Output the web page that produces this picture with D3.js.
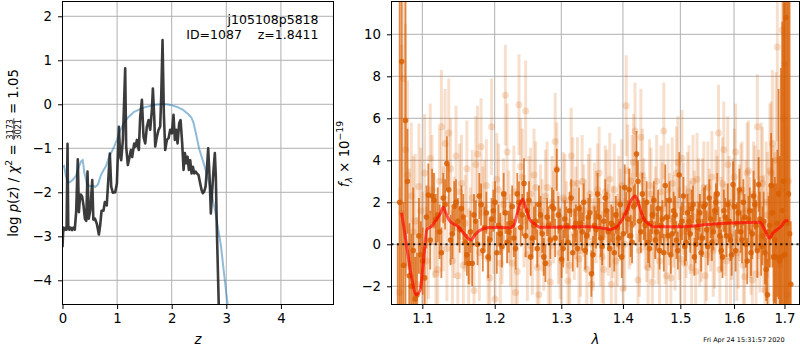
<!DOCTYPE html>
<html><head><meta charset="utf-8">
<script src="https://cdn.jsdelivr.net/npm/d3@7"></script>
<style>
body{margin:0;background:#fff}
svg{display:block;font-family:"DejaVu Sans",sans-serif}
text{white-space:pre}
</style>
</head><body>
<svg id="c" width="800" height="350"></svg>
<script>
// ---------- LEFT PANEL DATA: log p(z) ----------
const zTicks = [0, 1, 2, 3, 4];
const pTicks = [-4, -3, -2, -1, 0, 1, 2];
const pzZ = [0.000,0.015,0.035,0.060,0.075,0.092,0.105,0.125,0.150,0.175,0.200,0.225,0.250,0.280,0.300,0.315,0.335,0.360,0.385,0.410,0.435,0.458,0.480,0.510,0.545,0.565,0.595,0.630,0.666,0.690,0.715,0.750,0.776,0.810,0.837,0.867,0.892,0.922,0.965,0.996,1.032,1.057,1.075,1.106,1.148,1.166,1.197,1.228,1.252,1.276,1.313,1.338,1.362,1.398,1.423,1.454,1.484,1.515,1.545,1.576,1.606,1.637,1.655,1.680,1.698,1.728,1.759,1.789,1.808,1.832,1.856,1.881,1.911,1.942,1.972,2.003,2.033,2.058,2.082,2.107,2.137,2.162,2.192,2.217,2.241,2.265,2.290,2.314,2.339,2.363,2.388,2.412,2.437,2.461,2.492,2.522,2.547,2.571,2.595,2.620,2.644,2.668,2.693,2.717,2.742,2.766,2.790,2.808,2.827,2.864,2.880];
const pzV = [-3.25,-2.80,-2.86,-2.80,-2.85,-0.90,-2.75,-2.85,-2.80,-2.86,-2.80,-2.85,-2.45,-1.25,-2.45,-2.20,-2.05,-2.10,-2.30,-2.60,-2.65,-1.53,-2.60,-2.40,-1.72,-2.62,-2.60,-2.72,-2.96,-2.75,-2.42,-2.42,-2.22,-2.30,-1.75,-1.12,-1.87,-2.01,-2.00,-1.80,-0.51,-1.19,-1.27,-0.81,0.82,-0.96,-1.38,-1.20,-1.04,-1.20,-0.89,-0.96,-0.81,-1.04,-0.28,0.10,-0.74,-0.89,-0.51,-0.36,-0.58,-0.13,0.36,-0.28,-0.96,-0.74,-0.58,-0.51,0.17,1.46,-0.21,-1.04,-0.81,-0.77,-0.58,-0.66,-0.24,-0.81,-0.58,-0.89,-0.43,-0.36,-0.89,-1.49,-1.11,-1.34,-1.19,-1.49,-1.27,-1.57,-1.42,-1.57,-1.53,-1.57,-1.61,-1.80,-1.95,-2.02,-1.98,-1.87,-1.49,-1.00,-1.64,-2.48,-1.95,-1.49,-1.11,-1.64,-2.86,-4.67,-6.00];
const priorZ = [0.00,0.03,0.06,0.10,0.15,0.20,0.25,0.30,0.34,0.37,0.40,0.45,0.50,0.55,0.60,0.65,0.70,0.75,0.80,0.85,0.90,0.95,1.00,1.05,1.10,1.15,1.20,1.30,1.40,1.50,1.60,1.70,1.80,1.90,2.00,2.10,2.20,2.30,2.36,2.40,2.45,2.50,2.60,2.70,2.80,2.90,3.00,3.05];
const priorV = [-1.42,-1.40,-1.62,-1.78,-1.76,-1.70,-1.62,-1.42,-1.30,-1.27,-1.55,-1.82,-1.86,-1.85,-1.88,-1.82,-1.62,-1.50,-1.40,-1.20,-1.08,-0.95,-0.80,-0.62,-0.48,-0.38,-0.30,-0.18,-0.12,-0.07,-0.04,-0.01,0.00,0.00,-0.02,-0.06,-0.12,-0.22,-0.30,-0.42,-0.70,-1.00,-1.40,-1.85,-2.45,-3.20,-4.30,-4.80];

// ---------- RIGHT PANEL DATA: spectrum ----------
const lamTicks = [1.1, 1.2, 1.3, 1.4, 1.5, 1.6, 1.7];
const fTicks = [-2, 0, 2, 4, 6, 8, 10];
// binned (dark) points, beam 1
const lamB = [1.068,1.073,1.078,1.083,1.088,1.093,1.098,1.103,1.108,1.113,1.118,1.123,1.128,1.133,1.138,1.143,1.148,1.153,1.158,1.163,1.168,1.173,1.178,1.183,1.188,1.193,1.198,1.203,1.208,1.213,1.218,1.223,1.228,1.233,1.238,1.243,1.248,1.253,1.258,1.263,1.268,1.273,1.278,1.283,1.288,1.293,1.298,1.303,1.308,1.313,1.318,1.323,1.328,1.333,1.338,1.343,1.348,1.353,1.358,1.363,1.368,1.373,1.378,1.383,1.388,1.393,1.398,1.403,1.408,1.413,1.418,1.423,1.428,1.433,1.438,1.443,1.448,1.453,1.458,1.463,1.468,1.473,1.478,1.483,1.488,1.493,1.498,1.503,1.508,1.513,1.518,1.523,1.528,1.533,1.538,1.543,1.548,1.553,1.558,1.563,1.568,1.573,1.578,1.583,1.588,1.593,1.598,1.603,1.608,1.613,1.618,1.623,1.628,1.633,1.638,1.643,1.648,1.653,1.658,1.663,1.668,1.673,1.678,1.683,1.688,1.693,1.698,1.703,1.708,1.713];
const fluxB = [-3.2,8.7,5.9,-1.5,-0.3,-2.4,-0.5,-1.6,2.35,2.3,1.2,0.6,2.2,3.85,0.2,1.8,1.1,1.7,0.1,-0.9,-0.9,1.1,2.3,-0.3,1.5,0.2,1.6,-0.4,0.5,2.4,0.1,1.0,0.3,2.4,0.8,2.9,1.6,-0.6,0.9,-0.2,1.4,-0.6,1.3,0.2,1.7,3.55,0.8,-0.2,0.9,1.6,-0.4,1.0,1.7,0.6,-0.3,1.3,-1.4,0.9,2.4,0.3,1.1,1.6,-0.2,0.9,1.4,0.3,-0.6,2.7,1.2,0.4,1.8,4.3,1.1,2.4,0.9,0.1,1.0,2.1,0.6,-0.3,1.2,2.8,0.4,-0.5,1.6,0.2,3.3,1.1,-0.1,1.5,0.5,1.9,0.0,1.1,-0.4,1.8,0.7,2.2,0.1,1.6,2.4,0.4,-0.6,1.3,1.9,0.2,2.85,-0.3,1.5,0.6,2.0,0.0,1.2,-0.4,2.3,0.9,2.85,-0.1,1.1,-1.2,0.6,2.8,-0.6,-0.6,2.4,-0.6,3.0,10.8,2.4,-1.9];
const errB = [3.2,14,12,2.5,3,2.0,1.6,1.5,1.5,1.3,1.2,1.3,1.2,1.3,1.2,1.2,1.1,1.1,1.1,1.0,1.1,1.0,1.1,1.0,1.0,1.0,1.0,1.0,1.0,1.0,1.0,1.0,0.9,1.0,0.9,1.2,0.9,0.9,0.9,0.9,0.9,0.9,0.9,0.9,0.9,1.0,0.9,0.9,0.9,0.9,0.9,0.9,1.0,0.9,0.9,0.9,1.1,0.9,1.0,0.9,0.9,0.9,0.9,0.9,0.9,0.9,1.0,1.1,0.9,1.0,1.0,1.1,1.0,1.0,1.0,1.0,0.9,0.9,0.9,0.9,0.9,1.0,0.9,0.9,0.9,0.9,1.1,0.9,0.9,0.9,0.9,0.9,0.9,0.9,0.9,0.9,0.9,0.9,0.9,0.9,1.0,0.9,1.0,0.9,1.0,1.0,1.1,1.0,1.0,1.0,1.1,1.1,1.1,1.1,1.2,1.2,1.3,1.4,1.4,1.5,1.7,2.5,3.5,3.5,5,9,12,14,14,3];
// binned (dark) points, beam 2
const lamB2 = [1.0705,1.0755,1.0805,1.0855,1.0905,1.0955,1.1005,1.1055,1.1105,1.1155,1.1205,1.1255,1.1305,1.1355,1.1405,1.1455,1.1505,1.1555,1.1605,1.1655,1.1705,1.1755,1.1805,1.1855,1.1905,1.1955,1.2005,1.2055,1.2105,1.2155,1.2205,1.2255,1.2305,1.2355,1.2405,1.2455,1.2505,1.2555,1.2605,1.2655,1.2705,1.2755,1.2805,1.2855,1.2905,1.2955,1.3005,1.3055,1.3105,1.3155,1.3205,1.3255,1.3305,1.3355,1.3405,1.3455,1.3505,1.3555,1.3605,1.3655,1.3705,1.3755,1.3805,1.3855,1.3905,1.3955,1.4005,1.4055,1.4105,1.4155,1.4205,1.4255,1.4305,1.4355,1.4405,1.4455,1.4505,1.4555,1.4605,1.4655,1.4705,1.4755,1.4805,1.4855,1.4905,1.4955,1.5005,1.5055,1.5105,1.5155,1.5205,1.5255,1.5305,1.5355,1.5405,1.5455,1.5505,1.5555,1.5605,1.5655,1.5705,1.5755,1.5805,1.5855,1.5905,1.5955,1.6005,1.6055,1.6105,1.6155,1.6205,1.6255,1.6305,1.6355,1.6405,1.6455,1.6505,1.6555,1.6605,1.6655,1.6705,1.6755,1.6805,1.6855,1.6905,1.6955,1.7005,1.7055,1.7105];
const fluxB2 = [2.0,-1.0,3.0,-2.0,-2.6,0.4,-0.8,1.3,0.2,2.1,1.4,-0.4,1.9,2.6,0.5,2.0,0.7,1.3,-0.5,0.6,1.4,0.0,1.9,0.8,-0.6,1.2,2.0,0.9,-0.1,1.5,0.6,1.8,-0.2,2.0,1.4,0.4,2.1,0.3,1.1,1.9,0.5,-0.9,0.9,1.8,0.3,1.4,-0.7,1.2,0.1,2.2,0.8,-0.2,1.0,2.0,0.4,1.5,-0.5,0.7,1.3,-0.1,2.2,0.6,1.0,-0.4,0.8,1.9,0.5,1.5,2.6,0.1,1.9,3.0,0.6,1.2,2.0,-0.2,1.4,0.2,1.7,0.9,-0.4,1.3,2.1,0.5,1.4,-0.3,0.9,2.3,0.1,1.1,1.7,-0.6,0.8,1.5,0.3,1.9,-0.1,1.2,0.6,2.0,0.9,-0.3,1.6,0.4,1.1,-0.5,1.8,1.0,2.6,0.2,1.3,-0.8,1.6,0.5,1.9,-0.3,1.2,0.4,-0.4,-2.4,0.9,1.5,0.2,1.0,-0.8,1.6,-0.5,1.0,0.5];
const errB2 = [10,3,2.5,2.5,2,1.8,1.6,1.5,1.4,1.3,1.3,1.2,1.2,1.2,1.2,1.1,1.1,1.1,1.0,1.0,1.0,1.0,1.0,1.0,1.0,1.0,1.0,1.0,1.0,1.0,1.0,1.0,1.0,1.0,1.0,1.0,0.9,0.9,0.9,0.9,0.9,0.9,0.9,0.9,0.9,0.9,0.9,0.9,0.9,0.9,0.9,0.9,0.9,0.9,0.9,0.9,0.9,0.9,0.9,0.9,0.9,0.9,0.9,0.9,0.9,0.9,1.0,1.0,1.0,1.0,1.0,1.0,1.0,1.0,1.0,0.9,0.9,0.9,0.9,0.9,0.9,0.9,0.9,0.9,0.9,0.9,0.9,0.9,0.9,0.9,0.9,0.9,0.9,0.9,0.9,0.9,0.9,0.9,0.9,0.9,0.9,1.0,1.0,1.0,1.0,1.0,1.0,1.0,1.0,1.1,1.1,1.1,1.1,1.2,1.2,1.3,1.3,1.4,1.5,1.7,2.0,2.6,3.0,3.5,5,9,12,14,14];
// unbinned (faint) points, beam 1
const lamA = [1.0705,1.0755,1.0805,1.0855,1.0905,1.0955,1.1005,1.1055,1.1105,1.1155,1.1205,1.1255,1.1305,1.1355,1.1405,1.1455,1.1505,1.1555,1.1605,1.1655,1.1705,1.1755,1.1805,1.1855,1.1905,1.1955,1.2005,1.2055,1.2105,1.2155,1.2205,1.2255,1.2305,1.2355,1.2405,1.2455,1.2505,1.2555,1.2605,1.2655,1.2705,1.2755,1.2805,1.2855,1.2905,1.2955,1.3005,1.3055,1.3105,1.3155,1.3205,1.3255,1.3305,1.3355,1.3405,1.3455,1.3505,1.3555,1.3605,1.3655,1.3705,1.3755,1.3805,1.3855,1.3905,1.3955,1.4005,1.4055,1.4105,1.4155,1.4205,1.4255,1.4305,1.4355,1.4405,1.4455,1.4505,1.4555,1.4605,1.4655,1.4705,1.4755,1.4805,1.4855,1.4905,1.4955,1.5005,1.5055,1.5105,1.5155,1.5205,1.5255,1.5305,1.5355,1.5405,1.5455,1.5505,1.5555,1.5605,1.5655,1.5705,1.5755,1.5805,1.5855,1.5905,1.5955,1.6005,1.6055,1.6105,1.6155,1.6205,1.6255,1.6305,1.6355,1.6405,1.6455,1.6505,1.6555,1.6605,1.6655,1.6705,1.6755,1.6805,1.6855,1.6905,1.6955,1.7005,1.7055];
const fluxA = [-2.3,7.9,3.3,2.3,1.1,2.75,-0.3,-0.8,4.1,0.9,-1.2,5.6,4.8,5.3,-0.8,4.2,2.5,-1.0,3.6,0.4,-2.2,4.3,4.65,1.8,-0.7,5.6,-2.6,2.6,0.3,7.1,1.3,-0.9,-2.3,6.65,3.2,6.35,2.0,-0.2,2.7,-2.4,0.9,2.3,-0.9,2.0,4.9,0.3,-0.8,2.1,-1.75,4.2,0.5,2.9,-0.3,1.6,-1.2,2.4,0.0,1.3,3.4,-0.6,2.5,0.7,-1.9,2.6,0.2,1.4,-2.1,6.6,1.0,3.0,5.4,-1.7,5.1,1.9,0.4,2.8,-1.8,1.5,0.3,2.5,5.4,-1.5,1.2,2.9,0.0,3.9,-0.7,1.7,0.6,2.5,-1.1,1.3,3.1,0.2,1.9,-1.5,2.7,0.9,-0.3,2.3,5.3,1.0,4.5,-0.8,2.0,0.5,3.2,-0.4,1.5,2.6,-1.55,3.4,0.8,-1.7,2.2,5.6,0.3,2.9,-2.2,1.4,3.5,4.8,0.6,9.4,-1.0,10.2,8.6,-2.4];
const errA = [5,6,4.5,3.5,3.2,3.0,2.8,2.6,2.6,2.5,2.5,2.7,2.6,2.6,2.4,2.4,2.3,2.3,2.3,2.3,2.3,2.3,2.3,2.2,2.2,2.3,2.2,2.2,2.2,2.4,2.2,2.2,2.2,2.4,2.3,2.4,2.2,2.2,2.2,2.2,2.2,2.2,2.2,2.2,2.3,2.2,2.2,2.2,2.2,2.3,2.2,2.2,2.2,2.2,2.2,2.2,2.2,2.2,2.2,2.2,2.2,2.2,2.2,2.2,2.2,2.2,2.2,2.4,2.2,2.2,2.3,2.2,2.3,2.2,2.2,2.2,2.2,2.2,2.2,2.2,2.3,2.2,2.2,2.2,2.2,2.2,2.2,2.2,2.2,2.2,2.2,2.2,2.2,2.2,2.2,2.2,2.2,2.2,2.2,2.2,2.3,2.2,2.3,2.2,2.2,2.2,2.3,2.3,2.3,2.3,2.3,2.4,2.4,2.4,2.5,2.5,2.6,2.7,2.8,3.0,3.2,3.5,3.8,4.5,5,6,7,8];
// unbinned (faint) points, beam 2
const lamA2 = [1.073,1.078,1.083,1.088,1.093,1.098,1.103,1.108,1.113,1.118,1.123,1.128,1.133,1.138,1.143,1.148,1.153,1.158,1.163,1.168,1.173,1.178,1.183,1.188,1.193,1.198,1.203,1.208,1.213,1.218,1.223,1.228,1.233,1.238,1.243,1.248,1.253,1.258,1.263,1.268,1.273,1.278,1.283,1.288,1.293,1.298,1.303,1.308,1.313,1.318,1.323,1.328,1.333,1.338,1.343,1.348,1.353,1.358,1.363,1.368,1.373,1.378,1.383,1.388,1.393,1.398,1.403,1.408,1.413,1.418,1.423,1.428,1.433,1.438,1.443,1.448,1.453,1.458,1.463,1.468,1.473,1.478,1.483,1.488,1.493,1.498,1.503,1.508,1.513,1.518,1.523,1.528,1.533,1.538,1.543,1.548,1.553,1.558,1.563,1.568,1.573,1.578,1.583,1.588,1.593,1.598,1.603,1.608,1.613,1.618,1.623,1.628,1.633,1.638,1.643,1.648,1.653,1.658,1.663,1.668,1.673,1.678,1.683,1.688,1.693,1.698,1.703,1.708];
const fluxA2 = [1.5,4.5,-0.9,0.6,-1.9,1.6,3.4,0.1,2.6,-1.4,3.0,1.2,-0.2,3.6,0.8,-1.5,2.9,1.0,-0.6,2.2,3.8,-0.4,1.5,2.8,-1.6,0.8,3.1,-0.9,1.9,4.4,0.2,2.5,-1.3,3.7,1.1,-0.5,2.4,3.3,-1.1,1.6,0.0,2.7,-1.8,1.3,3.6,-0.4,2.2,0.8,-1.0,2.9,1.5,-0.7,3.0,0.9,2.1,-1.9,1.7,2.6,0.2,-1.2,2.3,3.1,0.6,-0.8,2.0,2.8,0.0,3.5,1.2,3.9,2.1,-0.3,3.3,1.0,-1.1,2.4,0.6,3.0,-0.8,1.7,0.3,2.6,-1.6,1.1,3.4,0.5,4.1,-0.9,2.2,0.8,3.0,-1.3,1.9,0.4,2.7,-0.5,1.4,3.2,0.1,2.0,-1.2,2.9,0.7,3.8,-0.6,1.8,4.4,0.2,2.5,-1.0,1.6,3.5,0.0,2.4,-1.4,1.9,3.1,0.5,2.0,-0.6,3.4,1.0,4.0,-0.7,2.6,6.0,1.2,3.0];
const errA2 = [8,6,4.5,3.6,3.2,3.0,2.8,2.7,2.6,2.5,2.5,2.5,2.5,2.4,2.4,2.4,2.3,2.3,2.3,2.3,2.3,2.3,2.2,2.2,2.2,2.2,2.2,2.2,2.2,2.3,2.2,2.2,2.2,2.3,2.2,2.2,2.2,2.2,2.2,2.2,2.2,2.2,2.2,2.2,2.2,2.2,2.2,2.2,2.2,2.2,2.2,2.2,2.2,2.2,2.2,2.2,2.2,2.2,2.2,2.2,2.2,2.2,2.2,2.2,2.2,2.2,2.2,2.2,2.2,2.3,2.2,2.2,2.2,2.2,2.2,2.2,2.2,2.2,2.2,2.2,2.2,2.2,2.2,2.2,2.2,2.2,2.3,2.2,2.2,2.2,2.2,2.2,2.2,2.2,2.2,2.2,2.2,2.2,2.2,2.2,2.2,2.2,2.2,2.3,2.3,2.3,2.3,2.3,2.3,2.3,2.4,2.4,2.4,2.5,2.5,2.6,2.7,2.8,2.9,3.1,3.4,3.7,4.2,4.8,5.5,6.5,7.5,8.5];
// model
const lamM = [1.073,1.080,1.086,1.092,1.097,1.101,1.106,1.112,1.119,1.124,1.128,1.132,1.137,1.148,1.158,1.166,1.172,1.178,1.192,1.222,1.228,1.234,1.241,1.246,1.252,1.260,1.267,1.340,1.365,1.378,1.388,1.396,1.405,1.414,1.421,1.428,1.435,1.445,1.452,1.500,1.561,1.651,1.660,1.670,1.677,1.684,1.695,1.701,1.708];
const fluxM = [1.5,-0.2,-1.6,-2.4,-2.2,-1.0,0.7,0.85,1.2,1.45,1.76,1.45,1.1,0.85,0.45,0.2,0.45,0.65,0.8,0.79,0.9,1.6,2.14,1.7,1.16,0.95,0.81,0.84,0.78,0.71,0.8,1.05,1.5,2.1,2.3,1.8,1.24,0.95,0.84,0.84,0.97,1.05,0.7,0.29,0.55,0.68,0.9,1.1,1.13];

// ---------- DRAW ----------
const svg = d3.select("#c");
const FS = 13.3;
const GRID = "#b0b0b0";

function panel(box, xs, ys, xt, yt, id) {
  svg.append("clipPath").attr("id", id).append("rect")
    .attr("x", box.x0).attr("y", box.y0).attr("width", box.x1 - box.x0).attr("height", box.y1 - box.y0);
  const g = svg.append("g");
  g.selectAll(".gx").data(xt).join("line")
    .attr("x1", d => xs(d)).attr("x2", d => xs(d)).attr("y1", box.y0).attr("y2", box.y1)
    .attr("stroke", GRID).attr("stroke-width", 1);
  g.selectAll(".gy").data(yt).join("line")
    .attr("y1", d => ys(d)).attr("y2", d => ys(d)).attr("x1", box.x0).attr("x2", box.x1)
    .attr("stroke", GRID).attr("stroke-width", 1);
  return svg.append("g").attr("clip-path", `url(#${id})`);
}
function axes(box, xs, ys, xt, yt, xfmt, yfmt) {
  const ax = svg.append("g").attr("transform", `translate(0,${box.y1})`)
    .call(d3.axisBottom(xs).tickValues(xt).tickFormat(xfmt).tickSize(4.5).tickSizeOuter(0).tickPadding(5));
  const ay = svg.append("g").attr("transform", `translate(${box.x0},0)`)
    .call(d3.axisLeft(ys).tickValues(yt).tickFormat(yfmt).tickSize(4.5).tickSizeOuter(0).tickPadding(6));
  [ax, ay].forEach(a => {
    a.attr("font-size", FS).attr("font-family", "DejaVu Sans");
    a.select(".domain").remove();
    a.selectAll("text").attr("fill", "#000");
    a.selectAll("line").attr("stroke", "#000").attr("stroke-width", 1);
  });
  svg.append("rect").attr("x", box.x0).attr("y", box.y0)
    .attr("width", box.x1 - box.x0).attr("height", box.y1 - box.y0)
    .attr("fill", "none").attr("stroke", "#000").attr("stroke-width", 1);
}

// Left panel
const L = {x0: 62.5, x1: 333.5, y0: 1.5, y1: 304.5};
const xz = d3.scaleLinear().domain([0, 4.963]).range([L.x0, L.x1]);
const yp = d3.scaleLinear().domain([-4.55, 2.336]).range([L.y1, L.y0]);
const pl = panel(L, xz, yp, zTicks, pTicks, "clipL");
const lineL = d3.line().x(d => xz(d[0])).y(d => yp(d[1]));
pl.append("path").datum(d3.zip(priorZ, priorV)).attr("d", lineL)
  .attr("fill", "none").attr("stroke", "#1f77b4").attr("stroke-opacity", 0.5).attr("stroke-width", 2);
pl.append("path").datum(d3.zip(pzZ, pzV)).attr("d", lineL)
  .attr("fill", "none").attr("stroke", "#1a1a1a").attr("stroke-opacity", 0.85).attr("stroke-width", 2.6)
  .attr("stroke-linejoin", "round");
axes(L, xz, yp, zTicks, pTicks, d3.format("d"), d3.format("d"));

svg.append("text").attr("x", 318.5).attr("y", 24).attr("text-anchor", "end").attr("font-size", 12.5)
  .text("j105108p5818");
svg.append("text").attr("x", 318.5).attr("y", 39).attr("text-anchor", "end").attr("font-size", 12.5)
  .text("ID=1087    z=1.8411");

// Right panel
const R = {x0: 391.5, x1: 799.5, y0: 1.5, y1: 304.5};
const xl = d3.scaleLog().domain([1.0600, 1.7310]).range([R.x0, R.x1]);
const yf = d3.scaleLinear().domain([-2.867, 11.562]).range([R.y1, R.y0]);
const pr = panel(R, xl, yf, lamTicks, fTicks, "clipR");
const ORG = "#d95f02";
function errSeries(data, op, lw, r, mop) {
  pr.append("g").selectAll("line").data(data).join("line")
    .attr("x1", d => xl(d[0])).attr("x2", d => xl(d[0]))
    .attr("y1", d => yf(d[1] - d[2])).attr("y2", d => yf(d[1] + d[2]))
    .attr("stroke", ORG).attr("stroke-opacity", op).attr("stroke-width", lw);
  pr.append("g").selectAll("circle").data(data).join("circle")
    .attr("cx", d => xl(d[0])).attr("cy", d => yf(d[1])).attr("r", r)
    .attr("fill", ORG).attr("fill-opacity", mop);
}
errSeries(d3.zip(lamA, fluxA, errA), 0.2, 3, 3.5, 0.2);
errSeries(d3.zip(lamA2, fluxA2, errA2), 0.2, 3, 3.5, 0.2);
errSeries(d3.zip(lamB, fluxB, errB), 0.75, 1.8, 2.8, 0.85);
errSeries(d3.zip(lamB2, fluxB2, errB2), 0.75, 1.8, 2.8, 0.85);
pr.append("path").datum(d3.zip(lamM, fluxM))
  .attr("d", d3.line().curve(d3.curveMonotoneX).x(d => xl(d[0])).y(d => yf(d[1])))
  .attr("fill", "none").attr("stroke", "red").attr("stroke-opacity", 0.65).attr("stroke-width", 3)
  .attr("stroke-linejoin", "round");
pr.append("line").attr("x1", R.x0).attr("x2", R.x1).attr("y1", yf(0)).attr("y2", yf(0))
  .attr("stroke", "#000").attr("stroke-opacity", 0.85).attr("stroke-width", 2).attr("stroke-dasharray", "2,3.4");
axes(R, xl, yf, lamTicks, fTicks, d3.format(".1f"), d3.format("d"));

// Axis labels
svg.append("text").attr("x", 198).attr("y", 344).attr("text-anchor", "middle").attr("font-size", FS)
  .attr("font-style", "italic").text("z");
svg.append("text").attr("x", 595.5).attr("y", 344).attr("text-anchor", "middle").attr("font-size", FS)
  .attr("font-style", "italic").text("λ");
svg.append("text").attr("x", 744).attr("y", 342).attr("text-anchor", "middle").attr("font-size", 6.5)
  .text("Fri Apr 24 15:31:57 2020");

// left y label with fraction
(function(){
  const g = svg.append("g");
  const t1 = g.append("text").attr("font-size", FS);
  t1.append("tspan").text("log ");
  t1.append("tspan").attr("font-style", "italic").text("p");
  t1.append("tspan").text("(");
  t1.append("tspan").attr("font-style", "italic").text("z");
  t1.append("tspan").text(") / ");
  t1.append("tspan").attr("font-style", "italic").text("χ");
  t1.append("tspan").attr("font-size", FS * 0.7).attr("dy", -FS * 0.42).text("2");
  t1.append("tspan").attr("dy", FS * 0.42).text(" = ");
  const w1 = t1.node().getComputedTextLength();
  const fsm = 8;
  const num = g.append("text").attr("font-size", fsm).attr("text-anchor", "middle").attr("y", -4.8).text("3173");
  const den = g.append("text").attr("font-size", fsm).attr("text-anchor", "middle").attr("y", 3.2).text("3021");
  const fw = Math.max(num.node().getComputedTextLength(), den.node().getComputedTextLength()) + 1.5;
  num.attr("x", w1 + fw / 2);
  den.attr("x", w1 + fw / 2);
  g.append("line").attr("x1", w1).attr("x2", w1 + fw).attr("y1", -3.7).attr("y2", -3.7)
    .attr("stroke", "#000").attr("stroke-width", 0.7);
  const t3 = g.append("text").attr("font-size", FS).attr("x", w1 + fw).text(" = 1.05");
  const W = w1 + fw + t3.node().getComputedTextLength();
  g.attr("transform", `translate(17.5,${153 + W / 2}) rotate(-90)`);
})();

// right y label
(function(){
  const g = svg.append("g");
  const t = g.append("text").attr("font-size", FS);
  t.append("tspan").attr("font-style", "italic").text("f");
  t.append("tspan").attr("font-style", "italic").attr("font-size", FS * 0.7).attr("dy", FS * 0.22).text("λ");
  t.append("tspan").attr("dy", -FS * 0.22).text(" × 10");
  t.append("tspan").attr("font-size", FS * 0.7).attr("dy", -FS * 0.42).text("−19");
  const W = t.node().getComputedTextLength();
  g.attr("transform", `translate(349,${154 + W / 2}) rotate(-90)`);
})();
</script>
</body></html>
